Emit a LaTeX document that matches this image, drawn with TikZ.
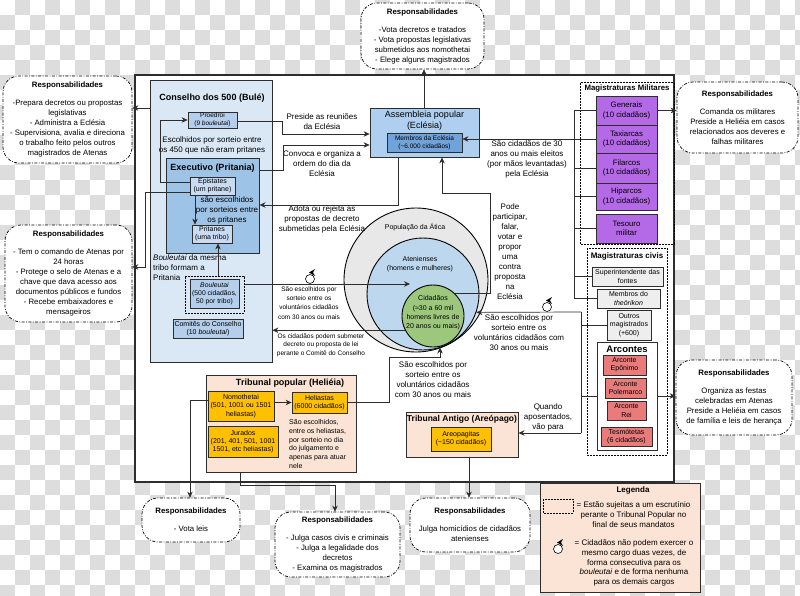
\documentclass[tikz,border=0pt]{standalone}
\usepackage{fontspec}
\setmainfont{Liberation Sans}
\usetikzlibrary{arrows.meta}
\definecolor{chk}{RGB}{221,221,221}
\definecolor{lnc}{RGB}{45,45,45}
\definecolor{conbg}{RGB}{218,232,246}
\definecolor{exebg}{RGB}{157,195,230}
\definecolor{midblue}{RGB}{180,206,236}
\definecolor{lightblue}{RGB}{200,219,242}
\definecolor{assbg}{RGB}{175,207,240}
\definecolor{membg}{RGB}{111,163,218}
\definecolor{peach}{RGB}{251,228,213}
\definecolor{gold}{RGB}{255,192,0}
\definecolor{arcred}{RGB}{234,123,123}
\definecolor{milpur}{RGB}{180,106,230}
\definecolor{civgray}{RGB}{238,238,238}
\definecolor{popgray}{RGB}{232,232,232}
\definecolor{atnblue}{RGB}{189,215,238}
\definecolor{cidgreen}{RGB}{157,199,125}
\tikzset{
  lbl/.style={font=\fontsize{8}{10}\selectfont, align=center, inner sep=0pt},
  sml/.style={font=\fontsize{6.5}{8.4}\selectfont, align=center, inner sep=0pt},
  bx/.style={draw=lnc, line width=0.8pt, inner sep=0pt, align=center, font=\fontsize{7}{8.3}\selectfont},
  resp/.style={draw=black, fill=white, rounded corners=16pt, line width=0.7pt,
    dash pattern=on 3pt off 1.5pt on 0.8pt off 1.5pt, align=center, inner sep=0pt,
    font=\fontsize{7.8}{10}\selectfont},
  conn/.style={draw=lnc, line width=0.7pt},
  arr/.style={conn, -{Stealth[length=6pt,width=5.5pt]}},
  dbox/.style={draw=black, line width=1pt, dash pattern=on 2pt off 1pt},
  ttl/.style={font=\bfseries\fontsize{9}{11}\selectfont, inner sep=0pt, align=center},
  cyc/.pic={
    \draw[line width=0.6pt, fill=white] (0,0) circle[radius=4.5pt];
    \fill[black] (-1,-6.5) -- (5,-10) -- (3,-6.5) -- (5,-3) -- cycle;
  }
}
\begin{document}
\begin{tikzpicture}[x=1pt,y=-1pt]
\useasboundingbox (0,0) rectangle (800,596);
% checkerboard background
\begin{scope}
\clip (0,0) rectangle (800,596);
\foreach \i in {0,...,53}{\foreach \j in {0,...,39}{
  \pgfmathtruncatemacro\s{mod(\i+\j,2)}
  \ifnum\s=1 \fill[chk] (\i*15,\j*15) rectangle ++(15,15);\fi }}
\end{scope}
% main frame
\draw[fill=white, draw=lnc, line width=1.2pt] (135,75) rectangle (674,482);

% ---------- Conselho ----------
\node[bx, fill=conbg, minimum width=122, minimum height=282] (con) at (211,221) {};
\node[ttl] at (212,98) {Conselho dos 500 (Bulé)};
\node[bx, fill=midblue, minimum width=49, minimum height=16, font=\fontsize{6.5}{7.6}\selectfont] (pro) at (212.5,120) {Proedroi\\(9 \textit{bouleutai})};
\node[lbl] at (212,145) {Escolhidos por sorteio entre\\os 450 que não eram pritanes};
\node[bx, fill=exebg, line width=1pt, minimum width=93, minimum height=94] (exe) at (212.5,206) {};
\node[ttl] at (212.5,168) {Executivo (Pritania)};
\node[bx, fill=lightblue, minimum width=45, minimum height=18] (epi) at (212.5,186) {Epistates\\(um pritane)};
\node[lbl] at (227,210) {são escolhidos\\por sorteios entre\\os pritanes};
\node[bx, fill=lightblue, minimum width=40, minimum height=18] (pri) at (212,234) {Pritanes\\(uma tribo)};
\node[lbl, anchor=west, align=left] at (153,268) {\textit{Bouleutai} da mesma\\tribo formam a\\Pritania};
\node[dbox, minimum width=59, minimum height=37, inner sep=0pt] (bou) at (214.5,294.5) {};
\node[bx, fill=midblue, minimum width=49, minimum height=29, font=\fontsize{6.8}{8.2}\selectfont] (boui) at (214.5,293.5) {\textit{Bouleutai}\\(500 cidadãos,\\50 por tribo)};
\node[bx, fill=midblue, minimum width=70, minimum height=19] (com) at (208,328.5) {Comitês do Conselho\\(10 \textit{bouleutai})};

% ---------- Assembleia ----------
\node[bx, fill=assbg, minimum width=109, minimum height=49] (ass) at (424.5,132.5) {};
\node[font=\fontsize{9}{11}\selectfont, align=center, inner sep=0pt] at (424.5,120.5) {Assembleia popular\\(Eclésia)};
\node[bx, fill=membg, minimum width=75, minimum height=19, font=\fontsize{6.5}{7.8}\selectfont] (mem) at (424.5,142.5) {Membros da Eclésia\\(\textasciitilde 6.000 cidadãos)};

% ---------- Militares ----------
\draw[dbox] (580,83) rectangle (674,244);
\node[font=\bfseries\fontsize{7.8}{9}\selectfont, inner sep=0pt] at (627,88.5) {Magistraturas Militares};
\tikzset{mil/.style={bx, fill=milpur, minimum width=61, font=\fontsize{7.8}{9.5}\selectfont}}
\node[mil, minimum height=29] (gen) at (626.5,110.5) {Generais\\(10 cidadãos)};
\node[mil, minimum height=28] (tax) at (626.5,139) {Taxiarcas\\(10 cidadãos)};
\node[mil, minimum height=30] (fil) at (626.5,168) {Filarcos\\(10 cidadãos)};
\node[mil, minimum height=27] (hip) at (626.5,196.5) {Hiparcos\\(10 cidadãos)};
\node[mil, minimum height=29] (tes) at (626.5,228.5) {Tesouro\\militar};

% ---------- Civis ----------
\draw[dbox] (587,248) rectangle (667,455);
\node[font=\bfseries\fontsize{8}{9}\selectfont, inner sep=0pt] at (627,256) {Magistraturas civis};
\node[bx, fill=civgray, minimum width=71, minimum height=19] (sup) at (627.5,276.5) {Superintendente das\\fontes};
\node[bx, fill=civgray, minimum width=63, minimum height=19] (the) at (628.5,298.5) {Membros do\\\textit{theōrikon}};
\node[bx, fill=civgray, minimum width=44, minimum height=30] (out) at (629,325) {Outros\\magistrados\\(+600)};
\node[bx, fill=white, line width=1pt, minimum width=60, minimum height=108] (arc) at (627,396) {};
\node[font=\bfseries\fontsize{9.5}{11}\selectfont, inner sep=0pt] at (627,349) {Arcontes};
\node[bx, fill=arcred, minimum width=43, minimum height=20] (epo) at (624.5,365) {Arconte\\Epônimo};
\node[bx, fill=arcred, minimum width=41, minimum height=20] (pol) at (625.5,388) {Arconte\\Polemarco};
\node[bx, fill=arcred, minimum width=39, minimum height=19] (rei) at (626.5,410.5) {Arconte\\Rei};
\node[bx, fill=arcred, minimum width=51, minimum height=19] (tsm) at (626.5,436.5) {Tesmótetas\\(6 cidadãos)};

% ---------- Circles ----------
\node[circle, draw=black, line width=0.9pt, fill=popgray, minimum size=144, inner sep=0pt] (pop) at (416,280) {};
\node[circle, draw=black, line width=0.9pt, fill=atnblue, minimum size=112, inner sep=0pt] (aten) at (423,294) {};
\node[circle, draw=black, line width=0.9pt, fill=cidgreen, minimum size=62, inner sep=0pt] (cid) at (433,316) {};
\node[font=\fontsize{7}{8.5}\selectfont, inner sep=0pt] at (415,227) {População da Ática};
\node[font=\fontsize{7}{8.5}\selectfont, align=center, inner sep=0pt] at (420,264) {Atenienses\\(homens e mulheres)};
\node[font=\fontsize{7}{9.3}\selectfont, align=center, inner sep=0pt] at (433,313) {Cidadãos\\(≈30 a 60 mil\\homens livres de\\20 anos ou mais)};

% ---------- Heliéia ----------
\node[bx, fill=peach, line width=1pt, minimum width=150, minimum height=97] (hel) at (281,423.5) {};
\node[ttl] at (290,383) {Tribunal popular (Heliéia)};
\node[bx, fill=gold, minimum width=66, minimum height=30] (nom) at (241,406) {Nomothetai\\(501, 1001 ou 1501\\heliastas)};
\node[bx, fill=gold, minimum width=55, minimum height=21] (hst) at (319.5,402.5) {Heliastas\\(6000 cidadãos)};
\node[bx, fill=gold, minimum width=70, minimum height=31] (jur) at (243,441.5) {Jurados\\(201, 401, 501, 1001\\1501, etc heliastas)};
\node[font=\fontsize{7}{8.8}\selectfont, align=left, anchor=west, inner sep=0pt] at (289,444) {São escolhidos,\\entre os heliastas,\\por sorteio no dia\\do julgamento e\\apenas para atuar\\nele};

% ---------- Areópago ----------
\node[bx, fill=peach, line width=1pt, minimum width=112, minimum height=45] (are) at (462,434.5) {};
\node[font=\bfseries\fontsize{8.5}{10}\selectfont, inner sep=0pt] at (462,419) {Tribunal Antigo (Areópago)};
\node[bx, fill=gold, minimum width=60, minimum height=24] (apg) at (461,439) {Areopagitas\\(\textasciitilde 150 cidadãos)};

% ---------- Responsabilidades ----------
\node[resp, minimum width=123, minimum height=66] (rEc) at (422.5,36) {\textbf{Responsabilidades}\\[8pt]-Vota decretos e tratados\\- Vota propostas legislativas\\submetidos aos nomothetai\\- Elege alguns magistrados};
\node[resp, minimum width=129, minimum height=87] (rCon) at (67.5,119.5) {\textbf{Responsabilidades}\\[8pt]-Prepara decretos ou propostas\\legislativas\\- Administra a Eclésia\\- Supervisiona, avalia e direciona\\o trabalho feito pelos outros\\magistrados de Atenas};
\node[resp, minimum width=127, minimum height=97] (rPri) at (68.5,273.5) {\textbf{Responsabilidades}\\[8pt]- Tem o comando de Atenas por\\24 horas\\- Protege o selo de Atenas e a\\chave que dava acesso aos\\documentos públicos e fundos\\- Recebe embaixadores e\\mensageiros};
\node[resp, minimum width=121, minimum height=71] (rMil) at (737.5,117.5) {\textbf{Responsabilidades}\\[8pt]Comanda os militares\\Preside a Heliéia em casos\\relacionados aos deveres e\\falhas militares};
\node[resp, minimum width=116, minimum height=75] (rArc) at (734,397.5) {\textbf{Responsabilidades}\\[8pt]Organiza as festas\\celebradas em Atenas\\Preside a Heliéia em casos\\de família e leis de herança};
\node[resp, minimum width=98, minimum height=44] (rNom) at (191,520) {\textbf{Responsabilidades}\\[8pt]- Vota leis};
\node[resp, minimum width=125, minimum height=65] (rHel) at (337.5,544.5) {\textbf{Responsabilidades}\\[8pt]- Julga casos civis e criminais\\- Julga a legalidade dos\\decretos\\- Examina os magistrados};
\node[resp, minimum width=120, minimum height=54] (rAre) at (470,525) {\textbf{Responsabilidades}\\[8pt]Julga homicídios de cidadãos\\atenienses};

% ---------- Legenda ----------
\node[bx, fill=peach, line width=1pt, minimum width=160, minimum height=109] (leg) at (620,537.5) {};
\node[font=\bfseries\fontsize{8}{10}\selectfont, inner sep=0pt] at (633,490) {Legenda};
\draw[dbox] (543,499) rectangle (573,513);
\node[lbl] at (633.5,515) {= Estão sujeitas a um escrutínio\\perante o Tribunal Popular no\\final de seus mandatos};
\node[font=\fontsize{8}{9.6}\selectfont, align=center, inner sep=0pt] at (634,563) {= Cidadãos não podem exercer o\\mesmo cargo duas vezes, de\\forma consecutiva para os\\\textit{bouleutai} e de forma nenhuma\\para os demais cargos};
\pic at (558,549) {cyc};

% ---------- Labels ----------
\node[lbl] at (322,122) {Preside as reuniões\\da Eclésia};
\node[lbl] at (322,163.5) {Convoca e organiza a\\ordem do dia da\\Eclésia};
\node[lbl] at (322,219.5) {Adota ou rejeita as\\propostas de decreto\\submetidas pela Eclésia};
\node[lbl] at (527,159.5) {São cidadãos de 30\\anos ou mais eleitos\\(por mãos levantadas)\\pela Eclésia};
\node[lbl] at (510,252) {Pode\\participar,\\falar,\\votar e\\propor\\uma\\contra\\proposta\\na\\Eclésia};
\node[sml, font=\fontsize{6.5}{9.3}\selectfont] at (309,303) {São escolhidos por\\sorteio entre os\\voluntários cidadãos\\com 30 anos ou mais};
\node[sml] at (321,345) {Os cidadãos podem submeter\\decreto ou proposta de lei\\perante o Comitê do Conselho};
\node[lbl] at (519,333) {São escolhidos por\\sorteio entre os\\voluntários cidadãos com\\30 anos ou mais};
\node[lbl] at (433,379.5) {São escolhidos por\\sorteio entre os\\voluntários cidadãos\\com 30 anos ou mais};
\node[lbl] at (548,417) {Quando\\aposentados,\\vão para};
\pic at (310,279) {cyc};
\pic at (547,307) {cyc};

% ---------- Connectors ----------
\coordinate (bt) at (410,284);
\coordinate (cb) at (581,312);
\draw[arr] (ass.north -| 424,0) -- (rEc.south -| 424,0);
\draw[arr] (con.west |- 0,108) -- (rCon.east |- 0,108);
\draw[arr] (epi.west |- 0,182) -- (160,182) -- (160,120) -- (pro.west);
\draw[arr] (epi.west |- 0,192) -- (145,192) -- (145,267) -- (rPri.east |- 0,267);
\draw[arr] (epi.south -| 195,0) -- (pri.north -| 195,0);
\draw[arr] (bou.north -| 218,0) -- (pri.south -| 218,0);
\draw[arr] (pro.east |- 0,121) -- (282,121) -- (282,134) -- (ass.west |- 0,134);
\draw[arr] (exe.east |- 0,170) -- (283,170) -- (283,145) -- (ass.west |- 0,145);
\draw[arr] (ass.south -| 398,0) -- (398,205) -- (exe.east |- 0,205);
\draw[arr] (bou.east |- 0,284) -- (bt);
\draw[arr] (cid.207) -- (con.east |- cid.207);
\draw[arr] (cid.45) -- (cid.45 -| 490,0) -- (490,193) -- (442,193) -- (ass.south -| 442,0);
% military bracket
\draw[conn] (gen.west -| 574,0) -- (the.west -| 574,0);
\foreach \n in {gen,fil,hip,tes,sup,the} \draw[conn] (\n.west) -- (\n.west -| 574,0);
\draw[arr] (tax.west) -- (mem.east |- tax.west);
\draw[arr] (gen.east) -- (rMil.west |- gen.east);
% civil bracket
\draw[arr] (cb) -- (aten.-19);
\draw[conn] (cb) -- (581,433);
\draw[conn] (out.west) -- (out.west -| 581,0);
\draw[conn] (arc.west) -- (arc.west -| 581,0);
\draw[arr] (581,433) -- (are.east |- 0,433);
\draw[arr] (arc.east) -- (rArc.west |- arc.east);
% tribunals
\draw[arr] (hst.east) -- (389,402.5) -- (389,357) -- (440,357) -- (cid.south -| 440,0);
\draw[arr] (nom.east |- hst.west) -- (hst.west);
\draw[arr] (nom.west |- 0,400) -- (190,400) -- (rNom.north -| 190,0);
\draw[arr] (hel.south -| 240,0) -- (240,485) -- (335,485) -- (rHel.north -| 335,0);
\draw[arr] (are.south -| 469,0) -- (rAre.north -| 469,0);
\end{tikzpicture}
\end{document}
